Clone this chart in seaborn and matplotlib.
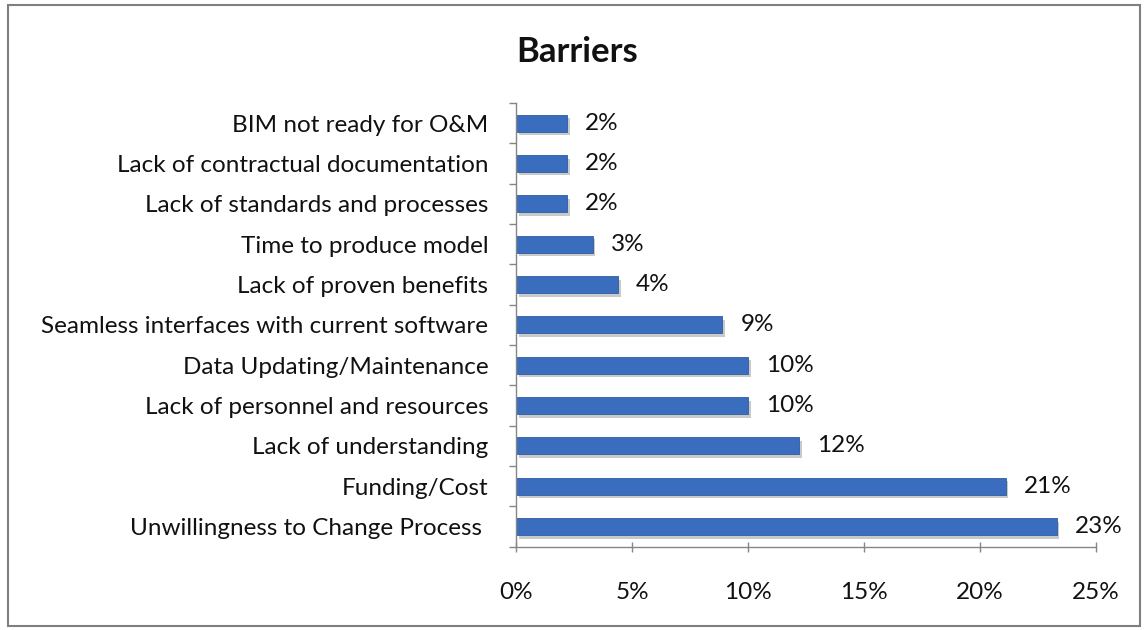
import matplotlib
matplotlib.use("Agg")
import matplotlib.pyplot as plt
import matplotlib.patheffects as pe
from matplotlib.patches import Rectangle
from matplotlib.ticker import FixedLocator, PercentFormatter
import seaborn as sns
import pandas as pd

# Survey results: share of respondents naming each barrier (%)
barriers = [
    "BIM not ready for O&M",
    "Lack of contractual documentation",
    "Lack of standards and processes",
    "Time to produce model",
    "Lack of proven benefits",
    "Seamless interfaces with current software",
    "Data Updating/Maintenance",
    "Lack of personnel and resources",
    "Lack of understanding",
    "Funding/Cost",
    "Unwillingness to Change Process ",
]
shares = [2.2, 2.2, 2.2, 3.3, 4.4, 8.9, 10.0, 10.0, 12.2, 21.1, 23.3]
x_ticks = [0, 5, 10, 15, 20, 25]

df = pd.DataFrame({"barrier": barriers, "share": shares})

sns.set_theme(style="white")
plt.rcParams["font.family"] = ["Lato", "DejaVu Sans"]

fig = plt.figure(figsize=(11.48, 6.3), dpi=100)
ax = fig.add_axes([0.4495, 0.132, 0.5052, 0.7045])

sns.barplot(data=df, y="barrier", x="share", orient="h", color="#3A6DBE",
            saturation=1, width=0.42, ax=ax)

for bar in ax.patches:
    bar.set_edgecolor("#2F5C9F")
    bar.set_linewidth(0.6)
    bar.set_path_effects([pe.SimplePatchShadow(offset=(2, -2.5), shadow_rgbFace="#888888", alpha=0.45),
                          pe.Normal()])

ax.bar_label(ax.containers[0], labels=[f"{v:.0f}%" for v in shares],
             padding=13, fontsize=17.5, color="#111111")

ax.set_xlim(0, 25)
ax.set_ylim(len(barriers) - 0.5, -0.5)
ax.xaxis.set_major_locator(FixedLocator(x_ticks))
ax.xaxis.set_major_formatter(PercentFormatter(decimals=0))
ax.set_xlabel("")
ax.set_ylabel("")

# category separators as minor ticks on the value axis
ax.yaxis.set_minor_locator(FixedLocator([i - 0.5 for i in range(len(barriers) + 1)]))
ax.tick_params(axis="y", which="major", length=0, pad=20, labelsize=17.5, labelcolor="#111111")
ax.tick_params(axis="y", which="minor", left=True, length=5, width=1, color="#868686", direction="out")
ax.tick_params(axis="x", which="major", bottom=True, length=7, width=1, color="#868686",
               direction="inout", pad=22, labelsize=17.5, labelcolor="#111111")

for side in ["top", "right"]:
    ax.spines[side].set_visible(False)
for side in ["left", "bottom"]:
    ax.spines[side].set_color("#868686")
    ax.spines[side].set_linewidth(1)

fig.text(0.503, 0.917, "Barriers", ha="center", va="center", fontsize=25, fontweight="bold",
         color="#111111")

fig.patches.append(Rectangle((0.007, 0.006), 0.986, 0.986, transform=fig.transFigure,
                             fill=False, edgecolor="#7F7F7F", linewidth=1.5))

fig.savefig("out.png", dpi=100)
